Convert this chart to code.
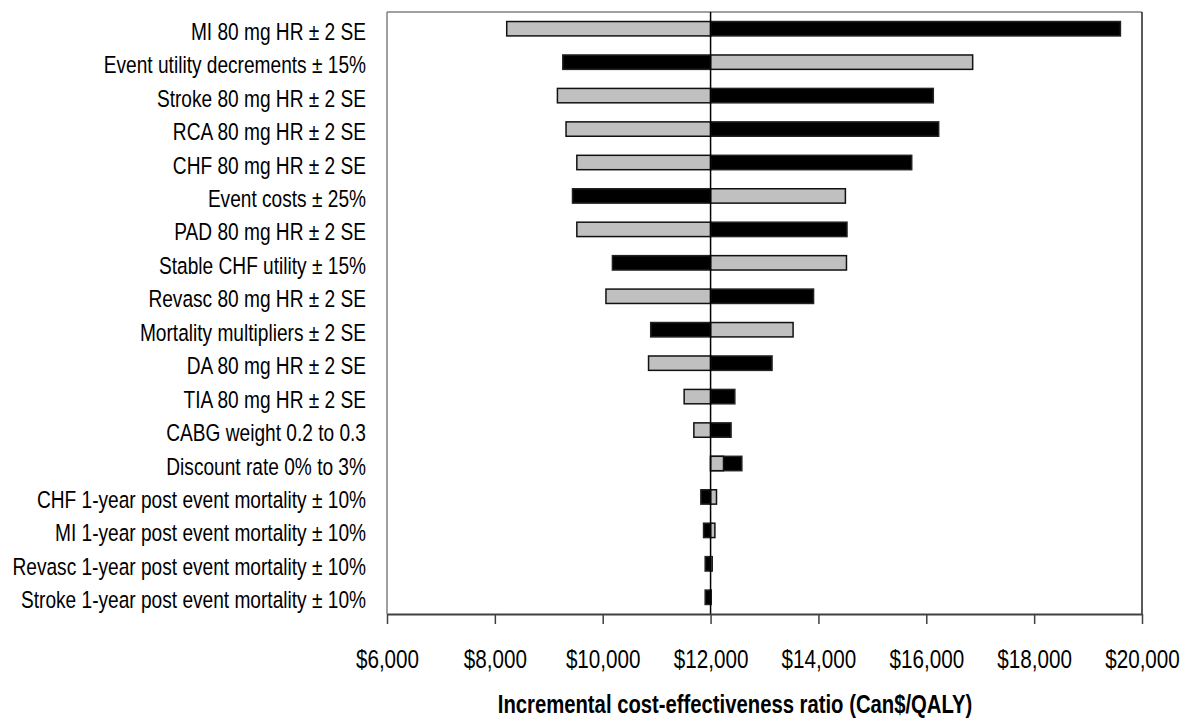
<!DOCTYPE html>
<html>
<head>
<meta charset="utf-8">
<script src="https://cdn.jsdelivr.net/npm/d3@7"></script>
<style>
  body { margin: 0; background: #fff; }
  text { font-family: 'Liberation Sans', Arial, sans-serif; fill: #000; }
</style>
</head>
<body>
<div id="chart"></div>
<script>
// tornado diagram, one-way sensitivity analyses around the base case ICER
const labels = [
  'MI 80 mg HR ± 2 SE',
  'Event utility decrements ± 15%',
  'Stroke 80 mg HR ± 2 SE',
  'RCA 80 mg HR ± 2 SE',
  'CHF 80 mg HR ± 2 SE',
  'Event costs ± 25%',
  'PAD 80 mg HR ± 2 SE',
  'Stable CHF utility ± 15%',
  'Revasc 80 mg HR ± 2 SE',
  'Mortality multipliers ± 2 SE',
  'DA 80 mg HR ± 2 SE',
  'TIA 80 mg HR ± 2 SE',
  'CABG weight 0.2 to 0.3',
  'Discount rate 0% to 3%',
  'CHF 1-year post event mortality ± 10%',
  'MI 1-year post event mortality ± 10%',
  'Revasc 1-year post event mortality ± 10%',
  'Stroke 1-year post event mortality ± 10%'
]

// grey bars
const lowValues = [8220, 16860, 9160, 9320, 9520, 14500, 9520, 14520, 10060,
  13530, 10850, 11510, 11690, 12240, 12110, 12080, 12030, 12010]
// black bars
const highValues = [19600, 9260, 16130, 16230, 15730, 9440, 14530, 10180, 13910,
  10890, 13140, 12450, 12380, 12580, 11820, 11870, 11900, 11900]

const baseCase = 12000
const tickValues = [6000, 8000, 10000, 12000, 14000, 16000, 18000, 20000]
const axisTitle = 'Incremental cost-effectiveness ratio (Can$/QALY)'

let margin = { top: 12, left: 387, right: 42, bottom: 108 }
let width = 1184 - margin.left - margin.right
let height = 722 - margin.top - margin.bottom

// the original uses a condensed face, squeeze a regular one
let narrow = 'scale(0.78,1)'

let root = d3
  .select('#chart')
  .append('svg')
  .attr('width', 1184)
  .attr('height', 722)

let svg = root
  .append('g')
  .attr('transform', 'translate(' + margin.left + ',' + margin.top + ')')

let xPositionScale = d3
  .scaleLinear()
  .domain([6000, 20000])
  .range([0, width])

let yPositionScale = d3
  .scaleBand()
  .domain(labels)
  .range([0, height])
  .paddingInner(0.57)
  .paddingOuter(0.285)

let rows = labels.map((label, i) => ({
  label: label,
  low: lowValues[i],
  high: highValues[i]
}))

// plot area frame
svg
  .append('line')
  .attr('x1', 0).attr('x2', width)
  .attr('y1', 0).attr('y2', 0)
  .attr('stroke', '#808080')
  .attr('stroke-width', 1.5)
svg
  .append('line')
  .attr('x1', 0).attr('x2', 0)
  .attr('y1', 0).attr('y2', height)
  .attr('stroke', '#808080')
  .attr('stroke-width', 1.5)
svg
  .append('line')
  .attr('x1', width).attr('x2', width)
  .attr('y1', 0).attr('y2', height)
  .attr('stroke', '#222')
  .attr('stroke-width', 1.5)

// black first, grey on top (discount rate row overlaps)
svg
  .selectAll('.high')
  .data(rows)
  .enter()
  .append('rect')
  .attr('class', 'high')
  .attr('x', d => xPositionScale(Math.min(d.high, baseCase)))
  .attr('width', d => Math.abs(xPositionScale(d.high) - xPositionScale(baseCase)))
  .attr('y', d => yPositionScale(d.label))
  .attr('height', yPositionScale.bandwidth())
  .attr('fill', '#000')
  .attr('stroke', '#222')
  .attr('stroke-width', 1.5)

svg
  .selectAll('.low')
  .data(rows)
  .enter()
  .append('rect')
  .attr('class', 'low')
  .attr('x', d => xPositionScale(Math.min(d.low, baseCase)))
  .attr('width', d => Math.abs(xPositionScale(d.low) - xPositionScale(baseCase)))
  .attr('y', d => yPositionScale(d.label))
  .attr('height', yPositionScale.bandwidth())
  .attr('fill', '#c0c0c0')
  .attr('stroke', '#111')
  .attr('stroke-width', 1.5)

// base case line
svg
  .append('line')
  .attr('x1', xPositionScale(baseCase))
  .attr('x2', xPositionScale(baseCase))
  .attr('y1', 0)
  .attr('y2', height)
  .attr('stroke', '#000')
  .attr('stroke-width', 1.5)

// row labels
svg
  .selectAll('.row-label')
  .data(rows)
  .enter()
  .append('g')
  .attr('class', 'row-label')
  .attr('transform', d =>
    'translate(-21,' + (yPositionScale(d.label) + yPositionScale.bandwidth() / 2 + 11) + ') ' + narrow)
  .append('text')
  .attr('text-anchor', 'end')
  .attr('font-size', 24.5)
  .text(d => d.label)

let xAxis = d3
  .axisBottom(xPositionScale)
  .tickValues(tickValues)
  .tickSize(10)
  .tickSizeOuter(0)
  .tickFormat(d3.format('$,.0f'))

let axisG = svg
  .append('g')
  .attr('transform', 'translate(0,' + height + ')')
  .call(xAxis)

axisG.select('.domain').attr('stroke', '#404040').attr('stroke-width', 2)
axisG.selectAll('.tick line').attr('stroke', '#404040').attr('stroke-width', 1.5)
axisG
  .selectAll('.tick text')
  .attr('y', 54)
  .attr('dy', null)
  .attr('font-size', 26.5)
  .attr('font-family', "'Liberation Sans', Arial, sans-serif")
  .attr('fill', '#000')
  .attr('transform', narrow)

root
  .append('g')
  .attr('transform', 'translate(735,713) ' + narrow)
  .append('text')
  .attr('text-anchor', 'middle')
  .attr('font-size', 26)
  .attr('font-weight', 'bold')
  .text(axisTitle)
</script>
</body>
</html>
